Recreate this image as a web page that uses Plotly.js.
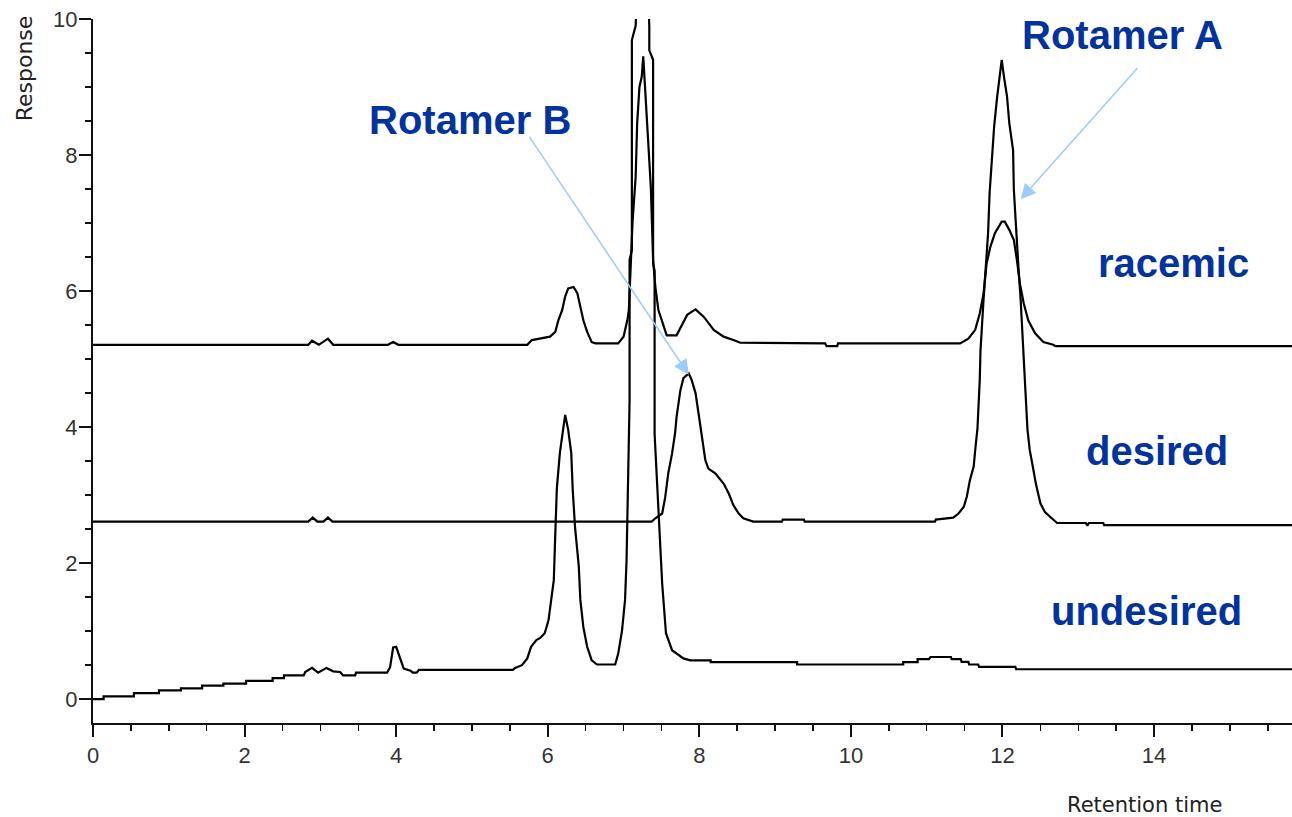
<!DOCTYPE html>
<html>
<head>
<meta charset="utf-8">
<script src="https://cdn.plot.ly/plotly-3.0.1.min.js"></script>
<style>
  html, body { margin: 0; padding: 0; background: #fff; }
  #chart { width: 1292px; height: 817px; }
</style>
</head>
<body>
<div id="chart"></div>
<script>
// Chromatograms: retention time (min) vs detector response, three samples stacked.

const undesiredTime = [0.00, 0.14, 0.14, 0.54, 0.54, 0.87, 0.87, 1.16, 1.16, 1.44, 1.44, 1.72, 1.72, 2.02, 2.02, 2.37, 2.37, 2.52, 2.52, 2.78, 2.80, 2.89, 2.97, 3.08, 3.17, 3.26, 3.30, 3.46, 3.47, 3.88, 3.92, 3.96, 4.00, 4.03, 4.06, 4.10, 4.19, 4.22, 4.27, 4.30, 5.54, 5.57, 5.66, 5.73, 5.78, 5.85, 5.90, 5.96, 6.01, 6.05, 6.08, 6.10, 6.12, 6.16, 6.20, 6.23, 6.27, 6.31, 6.33, 6.36, 6.41, 6.43, 6.47, 6.52, 6.58, 6.65, 6.89, 6.93, 6.98, 7.02, 7.04, 7.06, 7.08, 7.08, 7.11, 7.11, 7.16, 7.25, 7.34, 7.34, 7.39, 7.39, 7.41, 7.41, 7.46, 7.51, 7.56, 7.64, 7.79, 7.88, 8.15, 8.15, 9.29, 9.29, 10.69, 10.69, 10.88, 10.88, 11.03, 11.05, 11.32, 11.33, 11.45, 11.46, 11.55, 11.56, 11.68, 11.69, 12.17, 12.18, 15.82];
const undesiredResp = [0.00, 0.00, 0.04, 0.04, 0.09, 0.09, 0.13, 0.13, 0.16, 0.16, 0.20, 0.20, 0.23, 0.23, 0.27, 0.27, 0.31, 0.31, 0.35, 0.35, 0.40, 0.46, 0.39, 0.46, 0.41, 0.40, 0.35, 0.35, 0.39, 0.39, 0.47, 0.76, 0.77, 0.67, 0.55, 0.45, 0.42, 0.39, 0.39, 0.43, 0.43, 0.46, 0.50, 0.60, 0.77, 0.87, 0.90, 0.97, 1.16, 1.46, 1.75, 2.44, 3.10, 3.62, 3.96, 4.18, 3.96, 3.62, 3.07, 2.53, 1.95, 1.46, 1.06, 0.77, 0.57, 0.51, 0.51, 0.67, 1.01, 1.46, 2.04, 3.27, 4.40, 6.46, 6.60, 9.69, 9.90, 12.50, 9.90, 9.54, 9.40, 6.41, 6.30, 3.90, 2.73, 1.70, 0.97, 0.72, 0.60, 0.57, 0.57, 0.545, 0.545, 0.51, 0.51, 0.545, 0.545, 0.59, 0.59, 0.62, 0.62, 0.59, 0.59, 0.55, 0.55, 0.51, 0.51, 0.475, 0.475, 0.44, 0.44];

const desiredTime = [0.00, 2.84, 2.90, 2.96, 3.04, 3.10, 3.16, 7.37, 7.42, 7.51, 7.55, 7.59, 7.64, 7.68, 7.70, 7.75, 7.79, 7.86, 7.90, 7.95, 7.99, 8.03, 8.08, 8.12, 8.21, 8.32, 8.39, 8.45, 8.52, 8.58, 8.65, 8.71, 9.09, 9.10, 9.38, 9.39, 11.11, 11.12, 11.35, 11.42, 11.49, 11.53, 11.57, 11.62, 11.64, 11.67, 11.70, 11.71, 11.75, 11.78, 11.81, 11.83, 11.86, 11.89, 11.93, 11.96, 11.99, 12.02, 12.06, 12.09, 12.14, 12.15, 12.18, 12.21, 12.24, 12.28, 12.30, 12.33, 12.36, 12.40, 12.44, 12.50, 12.56, 12.65, 12.72, 13.10, 13.12, 13.14, 13.33, 13.34, 15.82];
const desiredResp = [2.61, 2.61, 2.67, 2.61, 2.61, 2.67, 2.61, 2.61, 2.66, 2.73, 2.97, 3.32, 3.61, 3.91, 4.15, 4.54, 4.72, 4.79, 4.69, 4.50, 4.20, 3.91, 3.51, 3.39, 3.32, 3.17, 3.02, 2.85, 2.73, 2.66, 2.63, 2.61, 2.61, 2.64, 2.64, 2.61, 2.61, 2.64, 2.67, 2.73, 2.83, 2.98, 3.22, 3.42, 3.66, 3.98, 4.69, 5.13, 5.87, 6.36, 6.85, 7.44, 7.93, 8.42, 8.86, 9.15, 9.40, 9.15, 8.86, 8.47, 8.07, 7.49, 6.85, 6.36, 5.87, 5.13, 4.59, 3.96, 3.66, 3.42, 3.17, 2.88, 2.75, 2.66, 2.59, 2.59, 2.55, 2.59, 2.59, 2.56, 2.56];

const racemicTime = [0.00, 2.84, 2.89, 2.98, 3.10, 3.17, 3.89, 3.96, 4.03, 5.73, 5.79, 5.90, 6.03, 6.10, 6.14, 6.19, 6.23, 6.27, 6.34, 6.39, 6.43, 6.47, 6.52, 6.58, 6.63, 6.93, 7.00, 7.05, 7.07, 7.10, 7.12, 7.16, 7.18, 7.21, 7.24, 7.26, 7.27, 7.30, 7.33, 7.36, 7.39, 7.42, 7.46, 7.53, 7.57, 7.70, 7.77, 7.84, 7.95, 8.06, 8.19, 8.32, 8.45, 8.54, 9.66, 9.68, 9.82, 9.83, 11.44, 11.55, 11.64, 11.70, 11.75, 11.79, 11.84, 11.90, 11.99, 12.03, 12.09, 12.15, 12.19, 12.23, 12.28, 12.34, 12.43, 12.54, 12.67, 12.70, 15.82];
const racemicResp = [5.21, 5.21, 5.27, 5.21, 5.30, 5.21, 5.21, 5.25, 5.21, 5.21, 5.28, 5.30, 5.33, 5.40, 5.57, 5.72, 5.92, 6.04, 6.06, 5.97, 5.77, 5.57, 5.40, 5.25, 5.23, 5.23, 5.33, 5.57, 5.72, 6.46, 7.04, 7.68, 8.47, 9.00, 9.15, 9.45, 9.25, 8.66, 8.12, 7.53, 6.46, 6.06, 5.72, 5.47, 5.35, 5.35, 5.50, 5.65, 5.73, 5.62, 5.43, 5.33, 5.28, 5.24, 5.23, 5.19, 5.19, 5.23, 5.23, 5.30, 5.43, 5.67, 5.96, 6.40, 6.65, 6.85, 7.02, 7.02, 6.90, 6.75, 6.46, 6.11, 5.82, 5.57, 5.38, 5.25, 5.21, 5.19, 5.19];

const xTickVals = [0, 2, 4, 6, 8, 10, 12, 14];
const yTickVals = [0, 2, 4, 6, 8, 10];

const traceLine = { color: '#000000', width: 2.2 };
const traces = [
  { name: 'undesired', x: undesiredTime, y: undesiredResp },
  { name: 'desired', x: desiredTime, y: desiredResp },
  { name: 'racemic', x: racemicTime, y: racemicResp }
].map(t => ({ ...t, type: 'scatter', mode: 'lines', line: traceLine, hoverinfo: 'x+y+name' }));

const labelFont = { family: 'Liberation Sans, Arial, sans-serif', size: 40, color: '#0033A0', weight: 'bold' };
const axisTextFont = { family: 'DejaVu Sans, sans-serif', size: 21, color: '#222222' };
const arrowColor = '#99CCFF';

function label(text, x, y) {
  return { text: '<b>' + text + '</b>', x: x, y: y, xref: 'x', yref: 'y',
           showarrow: false, font: labelFont, xanchor: 'center', yanchor: 'middle' };
}
function arrow(x, y, ax, ay) {
  return { text: '', x: x, y: y, ax: ax, ay: ay, xref: 'x', yref: 'y', axref: 'x', ayref: 'y',
           showarrow: true, arrowhead: 2, arrowsize: 2, arrowwidth: 1.5, arrowcolor: arrowColor,
           standoff: 0, startstandoff: 0 };
}

const axisCommon = {
  showline: true, linecolor: '#111111', linewidth: 2,
  ticks: 'outside', ticklen: 12, tickwidth: 2, tickcolor: '#111111',
  showgrid: false, zeroline: false,
  tickfont: { family: 'Liberation Sans, Arial, sans-serif', size: 22, color: '#333333' },
  minor: { dtick: 0.5, ticks: 'outside', ticklen: 6, tickwidth: 1.5, tickcolor: '#111111', showgrid: false }
};

const layout = {
  width: 1292, height: 817,
  margin: { l: 93, r: 0, t: 19, b: 94, pad: 0 },
  paper_bgcolor: '#ffffff', plot_bgcolor: '#ffffff',
  showlegend: false,
  xaxis: { ...axisCommon, range: [0, 15.82], tickmode: 'array', tickvals: xTickVals, ticktext: xTickVals.map(String) },
  yaxis: { ...axisCommon, range: [-0.35, 10], tickmode: 'array', tickvals: yTickVals, ticktext: yTickVals.map(String), ticklabelstandoff: -3 },
  annotations: [
    label('Rotamer A', 13.58, 9.76),
    label('Rotamer B', 4.98, 8.51),
    label('racemic', 14.25, 6.41),
    label('desired', 14.04, 3.65),
    label('undesired', 13.90, 1.29),
    arrow(7.86, 4.77, 5.745, 8.29),
    arrow(12.24, 7.35, 13.80, 9.30),
    { text: 'Response', xref: 'paper', yref: 'paper', x: -0.0575, y: 0.93, textangle: -90,
      showarrow: false, font: { ...axisTextFont, size: 22 }, xanchor: 'center', yanchor: 'middle' },
    { text: 'Retention time', xref: 'paper', yref: 'paper', x: 0.877, y: -0.1165,
      showarrow: false, font: axisTextFont, xanchor: 'center', yanchor: 'middle' }
  ]
};

Plotly.newPlot('chart', traces, layout, { displayModeBar: false, staticPlot: true });
</script>
</body>
</html>
